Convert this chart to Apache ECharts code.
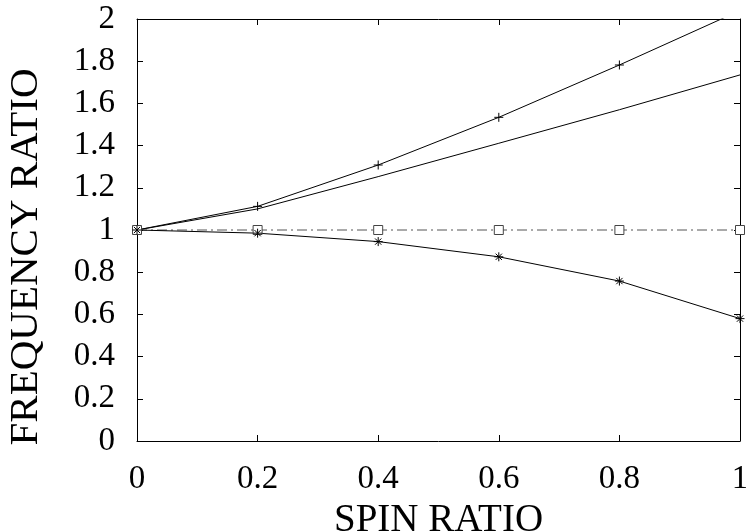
<!DOCTYPE html>
<html>
<head>
<meta charset="utf-8">
<script src="https://cdn.jsdelivr.net/npm/echarts@6/dist/echarts.min.js"></script>
<style>
html,body{margin:0;padding:0;background:#fff;}
#chart{width:746px;height:532px;}
</style>
</head>
<body>
<div id="chart"></div>
<script>
var spinRatio = [0, 0.2, 0.4, 0.6, 0.8, 1.0];
var upperPlus = [1.0, 1.112, 1.308, 1.534, 1.782, 2.04];
var upperSmooth = [1.0, 1.100, 1.253, 1.411, 1.570, 1.735];
var constantOne = [1.0, 1.0, 1.0, 1.0, 1.0, 1.0];
var lowerStar = [1.0, 0.985, 0.945, 0.873, 0.758, 0.58];
var xTitle = 'SPIN RATIO';
var yTitle = 'FREQUENCY RATIO';

function pairs(xs, ys) { return xs.map(function (x, i) { return [x, ys[i]]; }); }

var FONT = 'Liberation Serif';
var plusPath = 'path://M0,5L10,5M5,0L5,10';
var starPath = 'path://M0,5L10,5M5,0L5,10M1.5,1.5L8.5,8.5M1.5,8.5L8.5,1.5';

var chart = echarts.init(document.getElementById('chart'), null, {renderer: 'canvas'});
var axisLine = {show: true, onZero: false, lineStyle: {color: '#000', width: 1}};
var tick = {show: true, inside: true, length: 6, lineStyle: {color: '#000', width: 1}};
var option = {
  animation: false,
  backgroundColor: '#fff',
  grid: {left: 137, right: 6, top: 19, bottom: 91, containLabel: false, outerBoundsMode: 'none'},
  xAxis: [{
    type: 'value', min: 0, max: 1, interval: 0.2, position: 'bottom',
    axisLine: axisLine, axisTick: tick, splitLine: {show: false},
    axisLabel: {show: true, showMinLabel: true, showMaxLabel: true, margin: 22, color: '#000', fontFamily: FONT, fontSize: 33},
    name: xTitle, nameLocation: 'middle', nameGap: 55,
    nameTextStyle: {color: '#000', fontFamily: FONT, fontSize: 39}
  }, {
    type: 'value', min: 0, max: 1, interval: 0.2, position: 'top',
    axisLine: axisLine, axisTick: tick, splitLine: {show: false}, axisLabel: {show: false}
  }],
  yAxis: [{
    type: 'value', min: 0, max: 2, interval: 0.2, position: 'left',
    axisLine: axisLine, axisTick: tick, splitLine: {show: false},
    axisLabel: {show: true, showMinLabel: true, showMaxLabel: true, margin: 22, color: '#000', fontFamily: FONT, fontSize: 33},
    name: yTitle, nameLocation: 'middle', nameGap: 90,
    nameTextStyle: {color: '#000', fontFamily: FONT, fontSize: 41, padding: [0, 54, 0, 0]}
  }, {
    type: 'value', min: 0, max: 2, interval: 0.2, position: 'right',
    axisLine: axisLine, axisTick: tick, splitLine: {show: false}, axisLabel: {show: false}
  }],
  series: [{
    type: 'line', data: pairs(spinRatio, upperPlus), clip: true,
    symbol: plusPath, symbolSize: 9, showAllSymbol: true,
    lineStyle: {color: '#000', width: 1},
    itemStyle: {color: '#000', borderColor: '#000', borderWidth: 1}
  }, {
    type: 'line', data: pairs(spinRatio, upperSmooth), clip: true,
    showSymbol: false, symbol: 'none',
    lineStyle: {color: '#000', width: 1}
  }, {
    type: 'line', data: pairs(spinRatio, constantOne), clip: false,
    symbol: 'rect', symbolSize: 9, showAllSymbol: true,
    lineStyle: {color: '#555', width: 1, type: [10, 4, 2, 4]},
    itemStyle: {color: '#fff', borderColor: '#444', borderWidth: 1}
  }, {
    type: 'line', data: pairs(spinRatio, lowerStar), clip: false,
    symbol: starPath, symbolSize: 9, showAllSymbol: true,
    lineStyle: {color: '#000', width: 1},
    itemStyle: {color: '#000', borderColor: '#000', borderWidth: 1}
  }]
};
chart.setOption(option);
</script>
</body>
</html>
